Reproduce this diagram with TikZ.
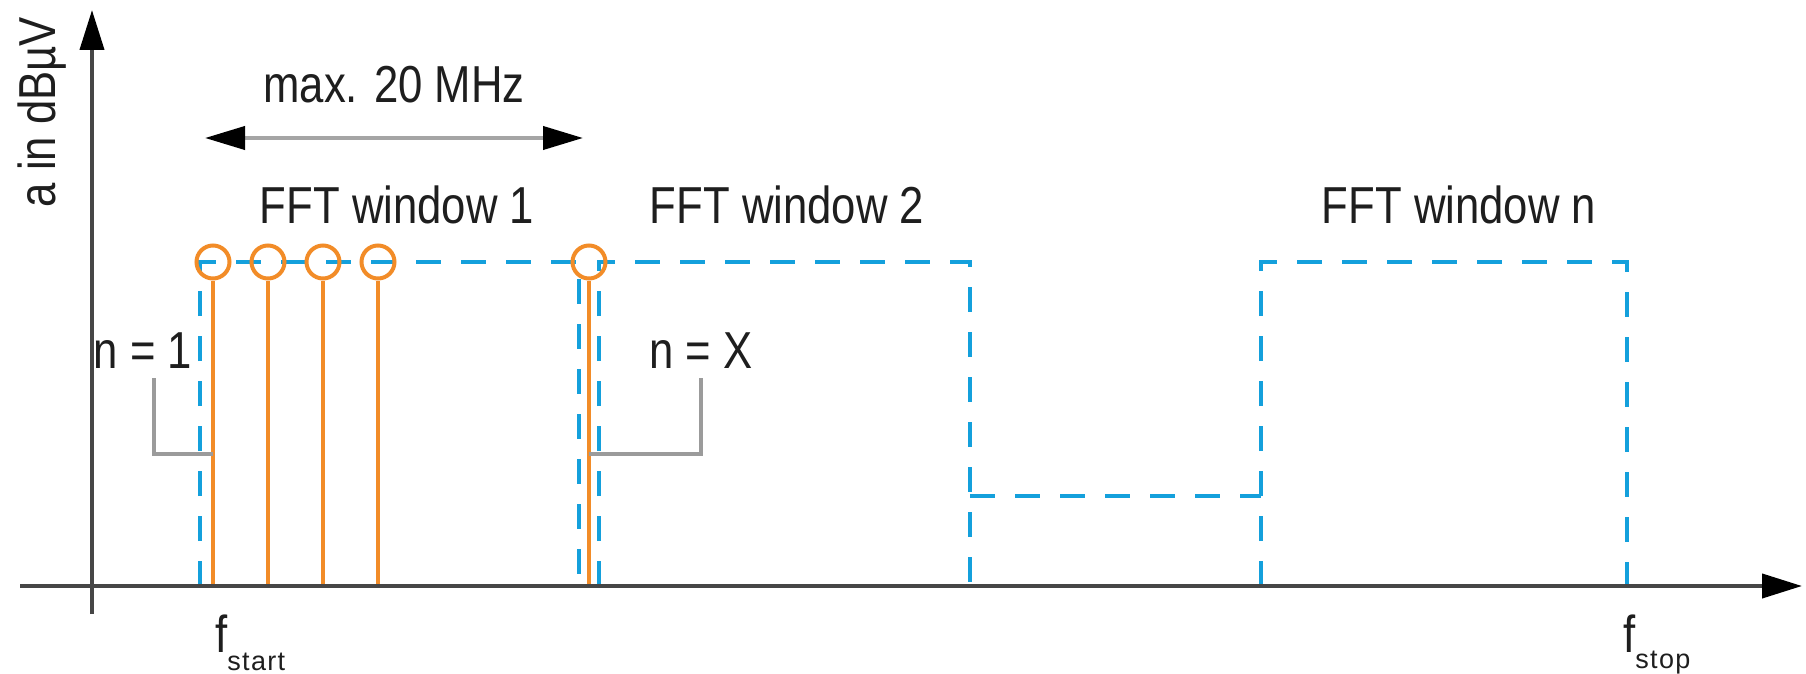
\documentclass[tikz,border=0pt]{standalone}
\usepackage{fontspec}
\setmainfont[FakeStretch=0.84]{Liberation Sans}
\newfontfamily\subfont[LetterSpace=5]{Liberation Sans}
\usetikzlibrary{arrows.meta}
\definecolor{winblue}{RGB}{20,160,220}
\definecolor{lineorange}{RGB}{242,140,40}
\definecolor{axisgray}{RGB}{70,70,70}
\definecolor{bracketgray}{RGB}{155,155,155}
\definecolor{spangray}{RGB}{165,165,165}
\definecolor{txtcol}{RGB}{30,30,30}
\tikzset{
  axisline/.style={draw=axisgray, line width=4pt, -{Triangle[length=40pt,width=24pt,color=black]}},
  winline/.style={draw=winblue, line width=4.5pt, dash pattern=on 25pt off 20pt},
  spectral/.style={draw=lineorange, line width=4pt},
  ring/.style={circle, draw=lineorange, line width=4pt, minimum size=33pt, inner sep=0pt},
  bracketline/.style={draw=bracketgray, line width=3.5pt},
  spanarrow/.style={draw=spangray, line width=4pt, {Triangle[length=40pt,width=23pt,color=black]}-{Triangle[length=40pt,width=23pt,color=black]}},
  lbl/.style={text=txtcol, inner sep=0pt, font=\fontsize{52}{60}\selectfont},
}
\begin{document}
\begin{tikzpicture}[x=1pt,y=-1pt]
\useasboundingbox (0,0) rectangle (1806,674);

% FFT windows (dashed)
\coordinate (w1a) at (200,586); \coordinate (w1b) at (200,262);
\coordinate (w1c) at (579,262); \coordinate (w1d) at (579,586);
\draw[winline] (w1a) -- (w1b) -- (w1c) -- (w1d);
\coordinate (w2a) at (599,586); \coordinate (w2b) at (599,262);
\coordinate (w2c) at (970,262); \coordinate (w2d) at (970,586);
\draw[winline] (w2a) -- (w2b) -- (w2c) -- (w2d);
\coordinate (gl) at (970,496); \coordinate (gr) at (1261,496);
\draw[winline] (gl) -- (gr);
\coordinate (wna) at (1261,586); \coordinate (wnb) at (1261,262);
\coordinate (wnc) at (1627,262); \coordinate (wnd) at (1627,586);
\draw[winline] (wna) -- (wnb) -- (wnc) -- (wnd);

% spectral lines
\node[ring] (c1) at (213,262) {};
\node[ring] (c2) at (268,262) {};
\node[ring] (c3) at (323,262) {};
\node[ring] (c4) at (378,262) {};
\node[ring] (c5) at (589,262) {};
\coordinate (b1) at (213,586);
\coordinate (b2) at (268,586);
\coordinate (b3) at (323,586);
\coordinate (b4) at (378,586);
\coordinate (b5) at (589,586);
\draw[spectral] (c1.south) -- (b1);
\draw[spectral] (c2.south) -- (b2);
\draw[spectral] (c3.south) -- (b3);
\draw[spectral] (c4.south) -- (b4);
\draw[spectral] (c5.south) -- (b5);

% brackets
\coordinate (k1t) at (154,378); \coordinate (k1b) at (213,454);
\draw[bracketline] (k1t) |- (k1b);
\coordinate (kxt) at (701,378); \coordinate (kxb) at (589,454);
\draw[bracketline] (kxt) |- (kxb);

% span arrow
\coordinate (sl) at (205,138); \coordinate (sr) at (583,138);
\draw[spanarrow] (sl) -- (sr);

% labels
\node[lbl, rotate=90, anchor=base] (ylab) at (55,112) {a in dBµV};
\node[lbl, anchor=base] (span) at (394,103) {max. 20 MHz};
\node[lbl, anchor=base] (fw1) at (397,223) {FFT window 1};
\node[lbl, anchor=base] (fw2) at (787,223) {FFT window 2};
\node[lbl, anchor=base] (fwn) at (1459,223) {FFT window n};
\node[lbl, anchor=base] (n1) at (143,368) {n = 1};
\node[lbl, anchor=base] (nx) at (701,368) {n = X};
\node[lbl, anchor=base west] (fstart) at (215,652) {f\raisebox{-18pt}{\subfont\fontsize{27}{27}\selectfont start}};
\node[lbl, anchor=base west] (fstop) at (1623,652) {f\raisebox{-16pt}{\subfont\fontsize{27}{27}\selectfont stop}};

% axes
\coordinate (yb) at (92,614); \coordinate (yt) at (92,10);
\draw[axisline] (yb) -- (yt);
\coordinate (xl) at (20,586); \coordinate (xr) at (1802,586);
\draw[axisline] (xl) -- (xr);
\end{tikzpicture}
\end{document}
